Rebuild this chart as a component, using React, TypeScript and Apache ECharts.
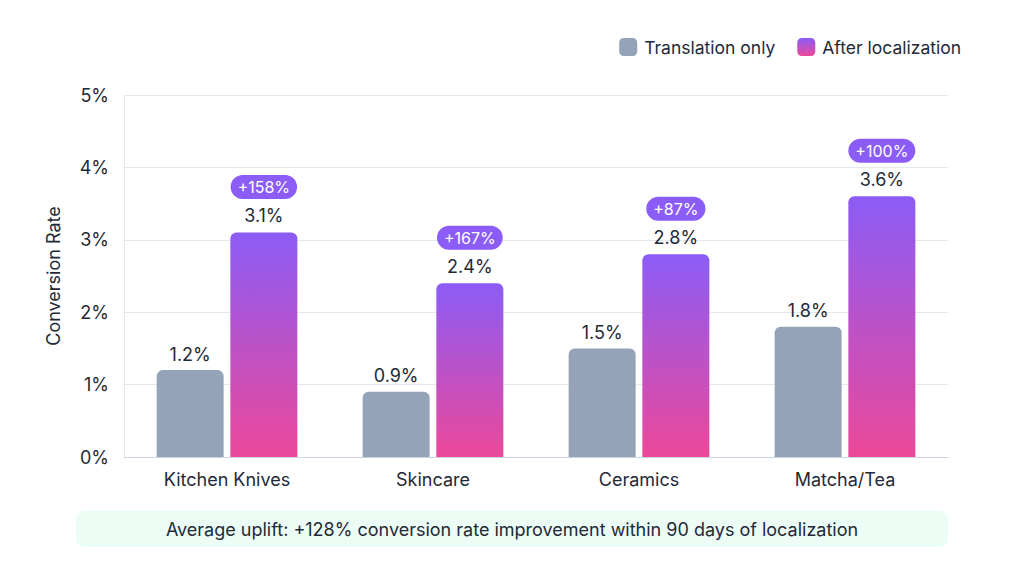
import React, { useEffect, useRef } from "react";
import * as echarts from "echarts";

const categories = ["Kitchen Knives", "Skincare", "Ceramics", "Matcha/Tea"];
const translationOnly = [1.2, 0.9, 1.5, 1.8];
const afterLocalization = [3.1, 2.4, 2.8, 3.6];
const yTicks = [0, 1, 2, 3, 4, 5];
const footerText =
  "Average uplift: +128% conversion rate improvement within 90 days of localization";

const FONT = "Inter, 'Noto Sans', sans-serif";

function upliftLabel(i: number): string {
  const pct = Math.round((afterLocalization[i] / translationOnly[i] - 1) * 100);
  return "+" + pct + "%";
}

export default function App() {
  const ref = useRef<HTMLDivElement>(null);

  useEffect(() => {
    if (!ref.current) return;
    const chart = echarts.init(ref.current, null, { renderer: "svg" });

    const purpleGradient = new echarts.graphic.LinearGradient(0, 0, 0, 1, [
      { offset: 0, color: "#8b5cf6" },
      { offset: 1, color: "#ec4899" },
    ]);

    chart.setOption({
      animation: false,
      backgroundColor: "#ffffff",
      textStyle: { fontFamily: FONT },
      legend: {
        top: 33,
        right: 58,
        itemWidth: 18,
        itemHeight: 18,
        itemGap: 22,
        icon: "roundRect",
        textStyle: {
          fontSize: 17.5,
          color: "#1f2937",
          fontFamily: FONT,
          padding: [0, 0, 0, 2],
        },
        data: ["Translation only", "After localization"],
      },
      grid: { left: 124, right: 76, top: 95, bottom: 115 },
      xAxis: {
        type: "category",
        data: categories,
        axisTick: { show: false },
        axisLine: { lineStyle: { color: "#cbd5e1", width: 1 } },
        axisLabel: { fontSize: 18, color: "#1f2937", margin: 13, fontFamily: FONT },
      },
      yAxis: {
        type: "value",
        min: yTicks[0],
        max: yTicks[yTicks.length - 1],
        interval: 1,
        name: "Conversion Rate",
        nameLocation: "middle",
        nameGap: 62,
        nameTextStyle: { fontSize: 18, color: "#1f2937", fontFamily: FONT },
        axisLine: { show: true, lineStyle: { color: "#e2e8f0" } },
        axisTick: { show: false },
        splitLine: { lineStyle: { color: "#e2e8f0" } },
        axisLabel: {
          fontSize: 18,
          color: "#1f2937",
          margin: 15,
          formatter: (v: number) => v + "%",
          fontFamily: FONT,
        },
      },
      series: [
        {
          name: "Translation only",
          type: "bar",
          data: translationOnly,
          barWidth: 67,
          barGap: "10%",
          itemStyle: { color: "#94a3b8", borderRadius: [6, 6, 0, 0] },
          label: {
            show: true,
            position: "top",
            distance: 7,
            fontSize: 18,
            color: "#1f2937",
            fontFamily: FONT,
            formatter: (p: any) => p.value + "%",
          },
        },
        {
          name: "After localization",
          type: "bar",
          data: afterLocalization,
          barWidth: 67,
          barGap: "10%",
          itemStyle: { color: purpleGradient, borderRadius: [6, 6, 0, 0] },
          label: {
            show: true,
            position: "top",
            distance: -3,
            fontFamily: FONT,
            formatter: (p: any) =>
              "{badge|" + upliftLabel(p.dataIndex) + "}\n{val|" + p.value + "%}",
            rich: {
              badge: {
                backgroundColor: "#8b5cf6",
                color: "#ffffff",
                fontSize: 16,
                fontFamily: FONT,
                borderRadius: 12,
                padding: [4, 7, 4, 7],
                lineHeight: 17,
                align: "center",
              },
              val: {
                fontSize: 18,
                color: "#1f2937",
                fontFamily: FONT,
                lineHeight: 40,
                align: "center",
              },
            },
          },
        },
      ],
      graphic: [
        {
          type: "rect",
          left: 76,
          top: 511,
          shape: { width: 872, height: 36, r: 8 },
          style: { fill: "#ecfdf5" },
        },
        {
          type: "text",
          x: 512,
          y: 529,
          style: {
            text: footerText,
            fontSize: 18,
            fill: "#1f2937",
            fontFamily: FONT,
            align: "center",
            verticalAlign: "middle",
          },
        },
      ],
    });

    return () => chart.dispose();
  }, []);

  return (
    <div
      ref={ref}
      style={{ position: "fixed", left: 0, top: 0, width: 1024, height: 572 }}
    />
  );
}
